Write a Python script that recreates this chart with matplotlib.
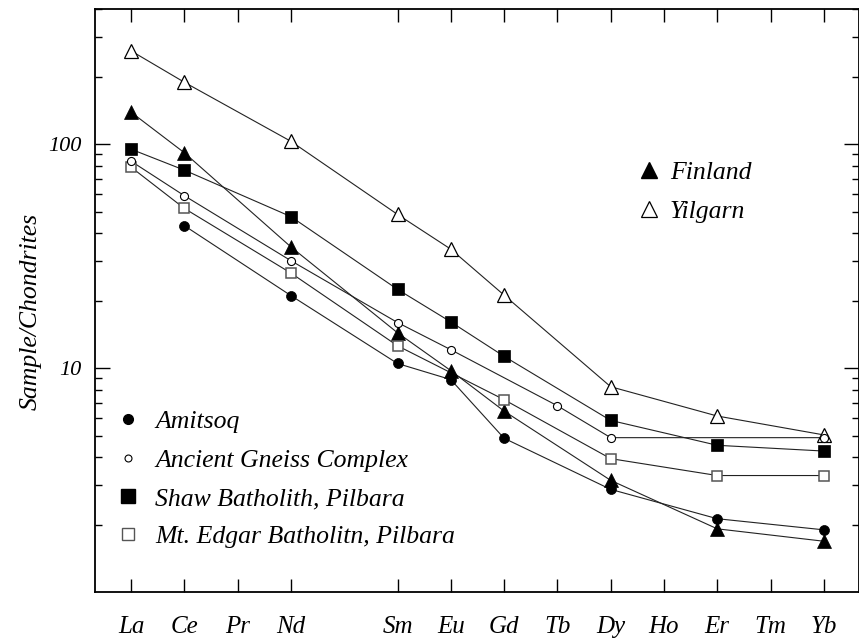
import numpy as np
import matplotlib
matplotlib.use('Agg')
import matplotlib.pyplot as plt
from matplotlib.lines import Line2D
from matplotlib.ticker import FixedLocator, NullFormatter

plt.rcParams['font.family'] = 'Liberation Serif'
plt.rcParams['font.style'] = 'italic'

# rare earth elements, Pm left as an empty slot
elements = ['La', 'Ce', 'Pr', 'Nd', 'Pm', 'Sm', 'Eu', 'Gd', 'Tb', 'Dy', 'Ho', 'Er', 'Tm', 'Yb']
shown = [e for e in elements if e != 'Pm']

# chondrite normalised values, None = not analysed
amitsoq = [None, 43.3, None, 21.1, None, 10.5, 8.9, 4.87, None, 2.88, None, 2.13, None, 1.90]
gneiss = [84, 58.9, None, 30.2, None, 16.0, 12.1, None, 6.8, 4.9, None, None, None, 4.9]
shaw = [95, 76.6, None, 47.5, None, 22.5, 16.1, 11.3, None, 5.85, None, 4.53, None, 4.27]
edgar = [79, 51.7, None, 26.6, None, 12.6, None, 7.24, None, 3.95, None, 3.32, None, 3.32]
finland = [139, 91.6, None, 34.8, None, 14.4, 9.76, 6.44, None, 3.16, None, 1.92, None, 1.69]
yilgarn = [261, 189, None, 103, None, 48.6, 34.0, 21.2, None, 8.27, None, 6.12, None, 5.04]

fig = plt.figure(figsize=(8.59, 6.41), dpi=100)
ax = fig.add_axes([95 / 859, (641 - 592.3) / 641, (858.5 - 95) / 859, (592.3 - 9.3) / 641])

def draw(vals, marker, ms, face, edge, mew):
    x = np.array([i for i, v in enumerate(vals) if v is not None])
    y = np.array([v for v in vals if v is not None])
    ax.plot(x, y, color='#222222', lw=0.8, zorder=1)
    ax.plot(x, y, ls='none', marker=marker, ms=ms, mfc=face, mec=edge, mew=mew, zorder=3)

draw(yilgarn, '^', 9.5, 'white', 'black', 0.9)
draw(finland, '^', 9.5, 'black', 'black', 0.5)
draw(shaw, 's', 9.3, 'black', 'black', 0.5)
draw(edgar, 's', 7.8, 'white', '#555555', 1.1)
draw(gneiss, 'o', 5.8, 'white', 'black', 0.8)
draw(amitsoq, 'o', 7.2, 'black', 'black', 0.5)

ax.set_yscale('log')
ax.set_ylim(1, 400)
ax.set_xlim(-0.676, 13.65)

ax.set_xticks([i for i, e in enumerate(elements) if e != 'Pm'])
ax.set_xticklabels(shown, fontsize=18)
ax.yaxis.set_major_locator(FixedLocator([10, 100]))
ax.yaxis.set_major_formatter(plt.FixedFormatter(['10', '100']))
minor = [m * 10 ** k for k in range(0, 3) for m in range(2, 10)]
ax.yaxis.set_minor_locator(FixedLocator(minor))
ax.yaxis.set_minor_formatter(NullFormatter())

ax.tick_params(axis='x', which='both', direction='in', top=True, bottom=True,
               length=9.5, width=1, pad=17)
ax.tick_params(axis='y', which='major', direction='in', left=True, right=True,
               length=11, width=1, labelsize=16, pad=10)
ax.tick_params(axis='y', which='minor', direction='in', left=True, right=True,
               length=5, width=1)
for s in ax.spines.values():
    s.set_linewidth(1.3)

ax.set_ylabel('Sample/Chondrites', fontsize=18.5)
ax.yaxis.set_label_coords(-0.07, 0.481)

# legend keys only, no connecting lines
h1 = [Line2D([], [], ls='none', marker='^', ms=12, mfc='black', mec='black'),
      Line2D([], [], ls='none', marker='^', ms=11.5, mfc='white', mec='black', mew=0.9)]
leg1 = ax.legend(h1, ['Finland', 'Yilgarn'], loc='upper left',
                 bbox_to_anchor=(0.682, 0.779), frameon=False, fontsize=18.5,
                 handlelength=0.8, handletextpad=0.4, labelspacing=0.62)
ax.add_artist(leg1)

h2 = [Line2D([], [], ls='none', marker='o', ms=7, mfc='black', mec='black'),
      Line2D([], [], ls='none', marker='o', ms=5, mfc='white', mec='black', mew=0.8),
      Line2D([], [], ls='none', marker='s', ms=10, mfc='black', mec='black'),
      Line2D([], [], ls='none', marker='s', ms=8.5, mfc='white', mec='#555555', mew=1)]
ax.legend(h2, ['Amitsoq', 'Ancient Gneiss Complex', 'Shaw Batholith, Pilbara',
               'Mt. Edgar Batholitn, Pilbara'],
          loc='upper left', bbox_to_anchor=(0.0, 0.352), frameon=False, fontsize=18.5,
          handlelength=0.8, handletextpad=0.65, labelspacing=0.6)

fig.savefig('out.png', dpi=100)
